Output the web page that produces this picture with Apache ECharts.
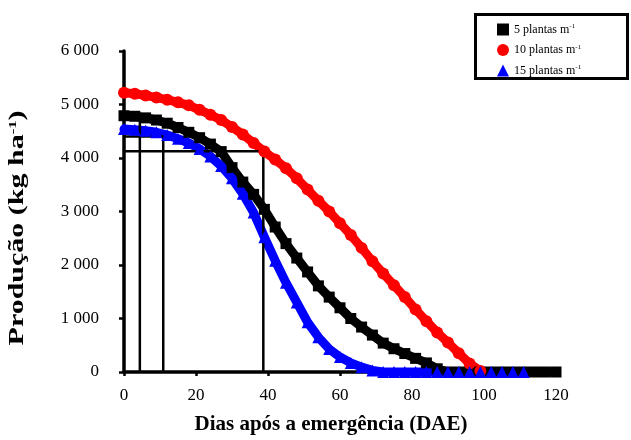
<!DOCTYPE html>
<html>
<head>
<meta charset="utf-8">
<script src="https://cdn.jsdelivr.net/npm/echarts@6/dist/echarts.min.js"></script>
<style>
  html, body { margin: 0; padding: 0; background: #fff; }
  #chart { width: 631px; height: 440px; }
</style>
</head>
<body>
<div id="chart"></div>
<script>
// Days after emergence sampled every 3 days
const days = [0,3,6,9,12,15,18,21,24,27,30,33,36,39,42,45,48,51,54,57,60,63,66,69,72,75,78,81,84,87,90,93,96,99,102,105,108,111,114,117,120];

// Yield (kg/ha) for each plant density
const yield5 = [4790,4780,4750,4710,4650,4570,4480,4380,4260,4120,3820,3550,3320,3040,2710,2400,2130,1870,1610,1400,1200,1000,840,690,540,435,345,255,170,60,0,0,0,0,0,0,0,0,0,0,0];
const yield10 = [5220,5200,5170,5130,5090,5040,4985,4900,4810,4710,4580,4440,4280,4120,3970,3810,3620,3410,3200,3000,2780,2560,2320,2070,1840,1620,1400,1170,950,740,550,350,160,20];
const yield15 = [4540,4530,4510,4480,4430,4360,4280,4170,4030,3850,3620,3330,2980,2520,2080,1670,1300,930,650,430,280,170,90,30,0,0,0,0,0,0,0,0,0,0,0,0,0,0];

// Critical periods read on the curves: [day, yield]
const guide1 = [4.4, 4800];
const guide2 = [10.9, 4400];
const guide3 = [38.7, 4124];

const seriesNames = ['5 plantas', '10 plantas', '15 plantas'];
const seriesIcons = ['rect', 'circle', 'triangle'];
const xTicks = { min: 0, max: 120, step: 20 };
const yTicks = { min: 0, max: 6000, step: 1000 };

const pair = (vals) => vals.map((v, i) => [days[i], v]);
const serif = 'Liberation Serif, Times New Roman, serif';

function curve(name, vals, color, symbol, size) {
  return {
    name, type: 'line', data: pair(vals),
    symbol, symbolSize: size,
    itemStyle: { color },
    lineStyle: { color, width: 9, cap: 'round', join: 'round' },
    emphasis: { disabled: true },
    animation: false
  };
}

function guide(pt) {
  return {
    type: 'line', silent: true, symbol: 'none', animation: false,
    data: [[0, pt[1]], [pt[0], pt[1]], [pt[0], 0]],
    lineStyle: { color: '#000', width: 2.5 }
  };
}

const fmtThousand = v => v === 0 ? '0' : String(v).replace(/\B(?=(\d{3})+(?!\d))/g, ' ');

const chart = echarts.init(document.getElementById('chart'), null, { renderer: 'canvas' });
chart.setOption({
  backgroundColor: '#fff',
  animation: false,
  grid: { left: 124, right: 75, top: 51, bottom: 65 },
  xAxis: {
    type: 'value', min: xTicks.min, max: xTicks.max, interval: xTicks.step,
    name: 'Dias após a emergência (DAE)', nameLocation: 'middle', nameGap: 42,
    nameTextStyle: { fontFamily: serif, fontSize: 21, fontWeight: 'bold', color: '#000', padding: [0, 18, 0, 0] },
    axisLine: { lineStyle: { color: '#000', width: 3.5 } },
    axisTick: { lineStyle: { color: '#000', width: 2.5 }, length: 4 },
    axisLabel: { fontFamily: serif, fontSize: 17, color: '#000', margin: 15 },
    splitLine: { show: false }
  },
  yAxis: {
    type: 'value', min: yTicks.min, max: yTicks.max, interval: yTicks.step,
    axisLine: { show: true, lineStyle: { color: '#000', width: 3.5 } },
    axisTick: { show: true, lineStyle: { color: '#000', width: 2.5 }, length: 5 },
    axisLabel: { fontFamily: serif, fontSize: 17, color: '#000', margin: 25, formatter: fmtThousand },
    splitLine: { show: false }
  },
  legend: {
    orient: 'vertical', left: 492, top: 18, itemGap: 8,
    itemWidth: 12, itemHeight: 12,
    data: seriesNames.map((n, i) => ({ name: n, icon: seriesIcons[i] })),
    formatter: n => `{t|${n} m}{s|-1}`,
    textStyle: {
      rich: {
        t: { fontFamily: serif, fontSize: 12, color: '#000' },
        s: { fontFamily: serif, fontSize: 7, color: '#000', verticalAlign: 'top', padding: [0, 0, 6, 0] }
      }
    }
  },
  graphic: [
    {
      type: 'rect', left: 473, top: 12,
      shape: { width: 152, height: 64 },
      style: { fill: 'none', stroke: '#000', lineWidth: 3 }
    },
    {
      // vertical axis title, stretched along its reading direction
      type: 'text', x: 18, y: 228, rotation: Math.PI / 2, scaleX: 1.5,
      style: {
        text: '{a|Produção (kg ha}{s|-1}{a|)}',
        align: 'center', verticalAlign: 'middle',
        rich: {
          a: { fontFamily: serif, fontSize: 20, fontWeight: 'bold', fill: '#000' },
          s: { fontFamily: serif, fontSize: 11, fontWeight: 'bold', fill: '#000', verticalAlign: 'top', padding: [0, 0, 8, 0] }
        }
      }
    }
  ],
  series: [
    curve(seriesNames[0], yield5, '#000000', 'rect', 11),
    curve(seriesNames[1], yield10, '#ff0000', 'circle', 12),
    curve(seriesNames[2], yield15, '#0000ff', 'triangle', 12),
    guide(guide1), guide(guide2), guide(guide3)
  ]
});
</script>
</body>
</html>
